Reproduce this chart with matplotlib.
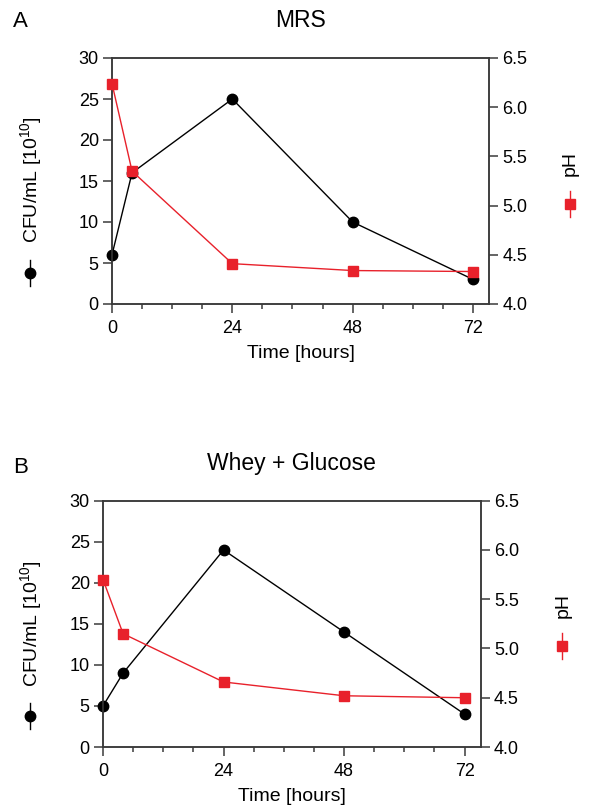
import matplotlib
matplotlib.use("Agg")
import matplotlib.pyplot as plt
from matplotlib.lines import Line2D
import numpy as np

plt.rcParams['font.family'] = ['Liberation Sans', 'DejaVu Sans']
plt.rcParams['mathtext.fontset'] = 'custom'
plt.rcParams['mathtext.rm'] = 'Liberation Sans'
plt.rcParams['mathtext.it'] = 'Liberation Sans:italic'

# ---- data ----
time_h = [0, 4, 24, 48, 72]
mrs_cfu = [6, 16, 25, 10, 3]
mrs_ph = [6.24, 5.35, 4.41, 4.34, 4.33]
whey_cfu = [5, 9, 24, 14, 4]
whey_ph = [5.70, 5.15, 4.66, 4.52, 4.50]

panel_titles = ["MRS", "Whey + Glucose"]
panel_letters = ["A", "B"]
x_major = [0, 24, 48, 72]
cfu_ticks = [0, 5, 10, 15, 20, 25, 30]
ph_ticks = [4.0, 4.5, 5.0, 5.5, 6.0, 6.5]

RED = '#E8212B'
SPINE = '#3a3a3a'
W, H = 589, 811

fig = plt.figure(figsize=(W / 100, H / 100), dpi=100)

# axes rectangles in pixels: left, top, right, bottom
rects = [(112, 58, 489, 304), (103, 500.7, 480.7, 747)]
# label positions (pixels): left text center, left marker, right text center, right marker
lab_pos = [
    dict(lx=31, ly=180, lmx=30, lmy=273, rx=570, ry=163, rmx=570, rmy=204),
    dict(lx=31, ly=624, lmx=30, lmy=716, rx=563, ry=605, rmx=562, rmy=646),
]
letter_pos = [(13, 27), (13, 473)]

datasets = [(mrs_cfu, mrs_ph), (whey_cfu, whey_ph)]

def fx(x):
    return x / W

def fy(y):
    return 1 - y / H

for i, (cfu, ph) in enumerate(datasets):
    l, t, r, b = rects[i]
    ax = fig.add_axes([fx(l), fy(b), (r - l) / W, (b - t) / H])
    ax2 = ax.twinx()

    ax.plot(time_h, cfu, color='black', lw=1.0, marker='o', ms=7.5,
            clip_on=False, zorder=4)
    ax2.plot(time_h, ph, color=RED, lw=1.0, marker='s', ms=7.5,
             clip_on=False, zorder=3)

    ax.set_xlim(0, 75.2)
    ax.set_ylim(0, 30)
    ax2.set_ylim(4.0, 6.5)
    ax.set_xticks(x_major)
    ax.set_xticks(np.arange(0, 73, 6), minor=True)
    ax.set_yticks(cfu_ticks)
    ax2.set_yticks(ph_ticks)
    ax2.set_yticklabels([f"{v:.1f}" for v in ph_ticks])

    for a in (ax, ax2):
        for s in a.spines.values():
            s.set_color(SPINE)
            s.set_linewidth(1.1)
    ax.tick_params(axis='both', which='major', length=6.5, width=1.1,
                   color=SPINE, labelsize=13, pad=3)
    ax.tick_params(axis='x', which='minor', length=3.6, width=1.1, color=SPINE)
    ax.tick_params(axis='x', which='major', pad=5)
    ax2.tick_params(axis='y', which='major', length=6.5, width=1.1,
                    color=SPINE, labelsize=13, pad=3)

    ax.set_xlabel("Time [hours]", fontsize=14, labelpad=6)
    ax.set_title(panel_titles[i], fontsize=16.5, pad=22)

    lp = lab_pos[i]
    fig.text(fx(lp['lx']), fy(lp['ly']), "CFU/mL [10$^{10}$]", rotation=90,
             ha='center', va='center', fontsize=14)
    fig.text(fx(lp['rx']), fy(lp['ry']), "pH", rotation=90,
             ha='center', va='center', fontsize=14)
    # legend-style symbols next to axis titles
    fig.add_artist(Line2D([fx(lp['lmx'])] * 2, [fy(lp['lmy'] - 13), fy(lp['lmy'] + 13)],
                          transform=fig.transFigure, color='black', lw=1.0))
    fig.add_artist(Line2D([fx(lp['lmx'])], [fy(lp['lmy'])], transform=fig.transFigure,
                          color='black', marker='o', ms=7.5, ls='none'))
    fig.add_artist(Line2D([fx(lp['rmx'])] * 2, [fy(lp['rmy'] - 13), fy(lp['rmy'] + 13)],
                          transform=fig.transFigure, color=RED, lw=1.0))
    fig.add_artist(Line2D([fx(lp['rmx'])], [fy(lp['rmy'])], transform=fig.transFigure,
                          color=RED, marker='s', ms=7.5, ls='none'))

    lx, ly = letter_pos[i]
    fig.text(fx(lx), fy(ly), panel_letters[i], fontsize=16, ha='left', va='baseline')

fig.savefig("out.png", dpi=100)
